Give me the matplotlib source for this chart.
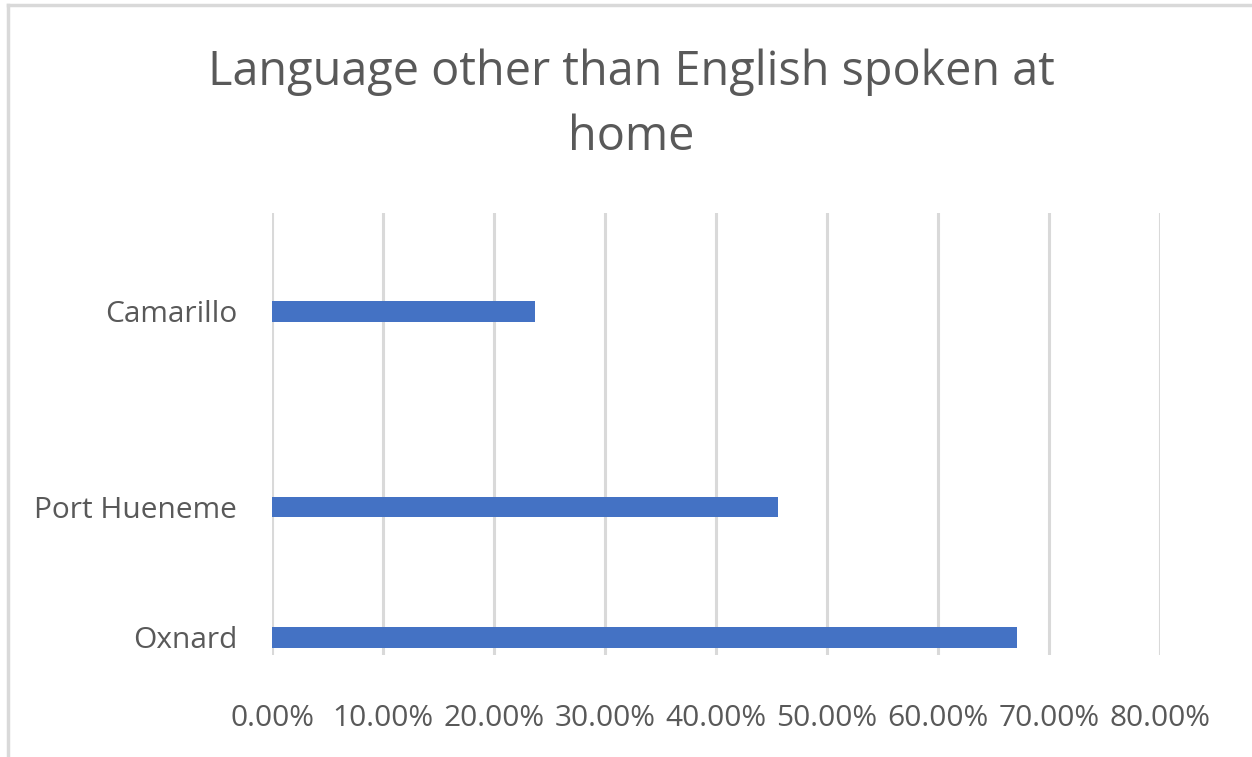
import matplotlib
matplotlib.use("Agg")
import matplotlib.pyplot as plt
from matplotlib.lines import Line2D
from matplotlib.ticker import FuncFormatter

cities = ["Oxnard", "Port Hueneme", "Camarillo"]
share = [0.671, 0.456, 0.237]
ypos = [0, 2, 5]
xticks = [0.0, 0.1, 0.2, 0.3, 0.4, 0.5, 0.6, 0.7, 0.8]

plt.rcParams['font.family'] = ['Open Sans', 'DejaVu Sans']
txt = '#595959'
grid = '#d9d9d9'

fig = plt.figure(figsize=(12.52, 7.57), dpi=100)
ax = fig.add_axes([272/1252, 1-655/757, 888/1252, 442/757])

ax.barh(ypos, share, height=0.32, color='#4472c4', zorder=3)
ax.set_xlim(0, 0.8)
ax.set_ylim(-0.27, 6.51)
ax.set_xticks(xticks)
ax.xaxis.set_major_formatter(FuncFormatter(lambda v, p: f"{v*100:.2f}%"))
ax.set_yticks(ypos)
ax.set_yticklabels(cities)
ax.grid(axis='x', color=grid, linewidth=2.2, zorder=0)
for s in ax.spines.values():
    s.set_visible(False)
ax.tick_params(axis='both', length=0, colors=txt, labelsize=21.5)
ax.tick_params(axis='y', pad=25)
ax.tick_params(axis='x', pad=35)

fig.text(631/1252, 1-105/757, "Language other than English spoken at\nhome",
         ha='center', va='center', fontsize=33.7, color=txt, linespacing=1.48)

# chart frame (top and left edges)
fig.add_artist(Line2D([8/1252, 1], [1-5/757, 1-5/757], color=grid, lw=2.5))
fig.add_artist(Line2D([8/1252, 8/1252], [0, 1-5/757], color=grid, lw=2.5))

fig.savefig("out.png", dpi=100, facecolor='white')
